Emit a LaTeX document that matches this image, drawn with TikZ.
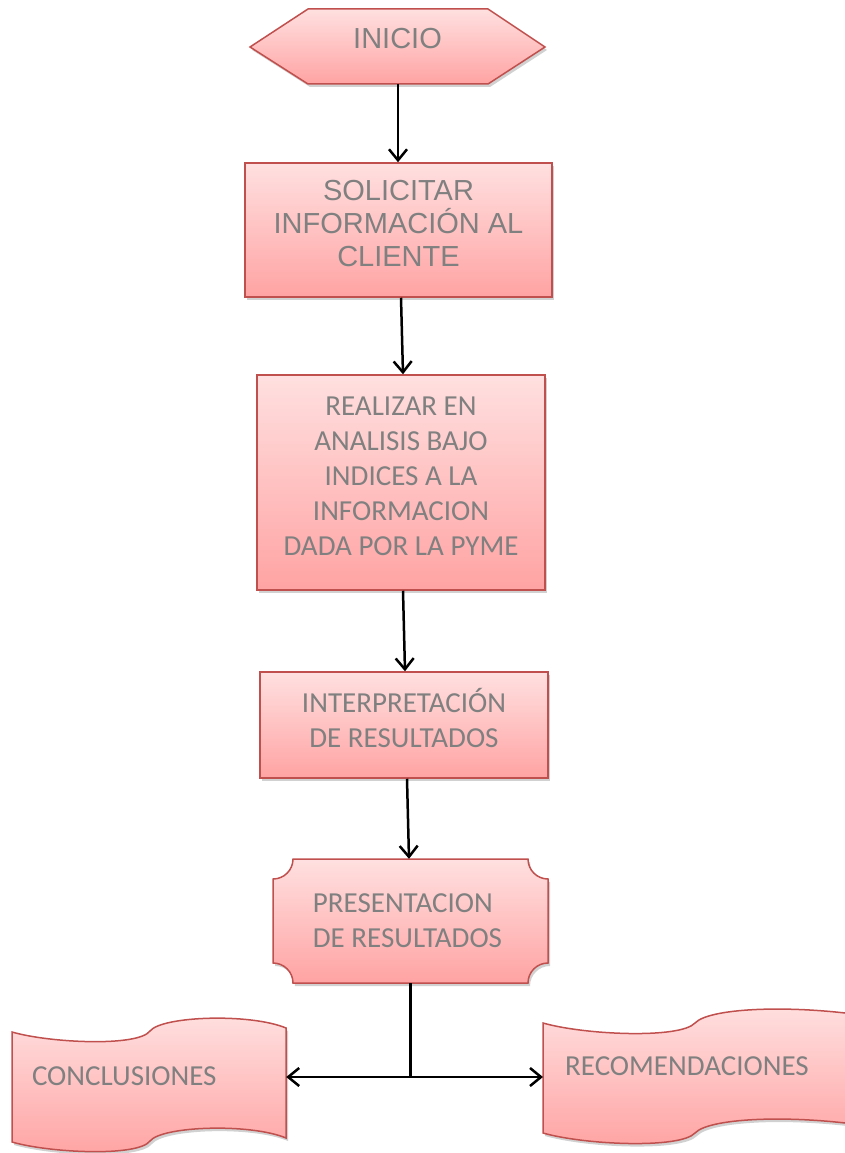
\documentclass[tikz,border=0pt]{standalone}
\usepackage{fontspec}
\setmainfont{Carlito}
\newfontfamily\arialf{Liberation Sans}
\usetikzlibrary{arrows.meta,shadows}
\definecolor{ptop}{RGB}{255,224,224}
\definecolor{pbot}{RGB}{255,163,163}
\definecolor{pborder}{RGB}{192,80,77}
\definecolor{txtgray}{RGB}{128,128,128}
\tikzset{
  shapefill/.style={draw=pborder, line width=1.5pt, top color=ptop, bottom color=pbot,
    drop shadow={shadow xshift=2pt,shadow yshift=-3pt,opacity=.3,fill=black!60}},
  boxnode/.style={shapefill, rectangle, inner sep=0pt},
  holder/.style={rectangle, inner sep=0pt, text=txtgray},
  txtnode/.style={inner sep=0pt, text=txtgray, align=center, font=\fontsize{29}{35}\selectfont},
  conn/.style={line width=2.5pt, black},
  arr/.style={conn, -{Straight Barb[length=11pt,width=18pt]}}
}
\begin{document}
\begin{tikzpicture}[x=1pt,y=-1pt]
\useasboundingbox (0,0) rectangle (845,1153);
% INICIO hexagon
\path[shapefill] (250,47) -- (308,9) -- (488,9) -- (545,47) -- (488,84) -- (308,84) -- cycle;
\node[holder, minimum width=295pt, minimum height=75pt] (inicio) at (397.5,46.5) {};
\node[txtnode, font=\arialf\fontsize{29}{33}\selectfont] (iniciotext) at ([yshift=8pt]inicio.center) {INICIO};
% boxes
\node[boxnode, minimum width=307pt, minimum height=134pt] (sol) at (398.5,230) {};
\node[txtnode, font=\arialf\fontsize{29}{33}\selectfont] (soltext) at ([yshift=6pt]sol.center)
  {SOLICITAR\\INFORMACIÓN AL\\CLIENTE};
\node[boxnode, minimum width=288pt, minimum height=215pt] (real) at (401,482.5) {};
\node[txtnode] (realtext) at ([yshift=6pt]real.center)
  {REALIZAR  EN\\ANALISIS BAJO\\INDICES A LA\\INFORMACION\\DADA POR LA PYME};
\node[boxnode, minimum width=288pt, minimum height=106pt] (interp) at (404,725) {};
\node[txtnode] (interptext) at ([yshift=7pt]interp.center)
  {INTERPRETACIÓN\\DE RESULTADOS};
% PRESENTACION plaque
\path[shapefill] (293,859) -- (528,859) arc[start angle=180,end angle=90,radius=20]
  -- (548,963) arc[start angle=270,end angle=180,radius=20]
  -- (293,983) arc[start angle=0,end angle=-90,radius=20]
  -- (273,879) arc[start angle=90,end angle=0,radius=20] -- cycle;
\node[holder, minimum width=275pt, minimum height=124pt] (pres) at (410.5,921) {};
\node[txtnode, align=left] (prestext) at ([xshift=-3pt]pres.center) {PRESENTACION\\DE RESULTADOS};
% CONCLUSIONES tape
\path[shapefill] (12,1032) .. controls (50,1043) and (138,1047) .. (150,1031)
  .. controls (162,1016) and (250,1013) .. (286,1028) -- (286,1138)
  .. controls (250,1123) and (162,1126) .. (150,1141)
  .. controls (138,1157) and (50,1153) .. (12,1142) -- cycle;
\node[holder, minimum width=274pt, minimum height=100pt, text width=234pt, align=left, font=\fontsize{29}{35}\selectfont] (concl) at (149,1077) {\raisebox{2pt}{CONCLUSIONES}};
% RECOMENDACIONES tape
\path[shapefill] (543,1023) .. controls (585,1035) and (680,1039) .. (695,1023)
  .. controls (710,1007) and (800,1004) .. (880,1018) -- (880,1128)
  .. controls (800,1114) and (710,1117) .. (695,1133)
  .. controls (680,1149) and (585,1145) .. (543,1133) -- cycle;
\node[holder, anchor=west, minimum height=100pt, inner xsep=22pt, font=\fontsize{29}{35}\selectfont] (rec) at (543,1066) {RECOMENDACIONES};
% connectors
\coordinate (j) at (410.5,1077);
\draw[arr] ([xshift=0.5pt]inicio.south) -- ([xshift=-0.5pt]sol.north);
\draw[arr] ([xshift=2.5pt]sol.south) -- ([xshift=2pt]real.north);
\draw[arr] ([xshift=2pt]real.south) -- ([xshift=1pt]interp.north);
\draw[arr] ([xshift=3pt]interp.south) -- ([xshift=-1.5pt]pres.north);
\draw[conn] (pres.south) -- (j);
\draw[arr] (j) -- (j -| concl.east);
\draw[arr] (j) -- (j -| rec.west);
\end{tikzpicture}
\end{document}
